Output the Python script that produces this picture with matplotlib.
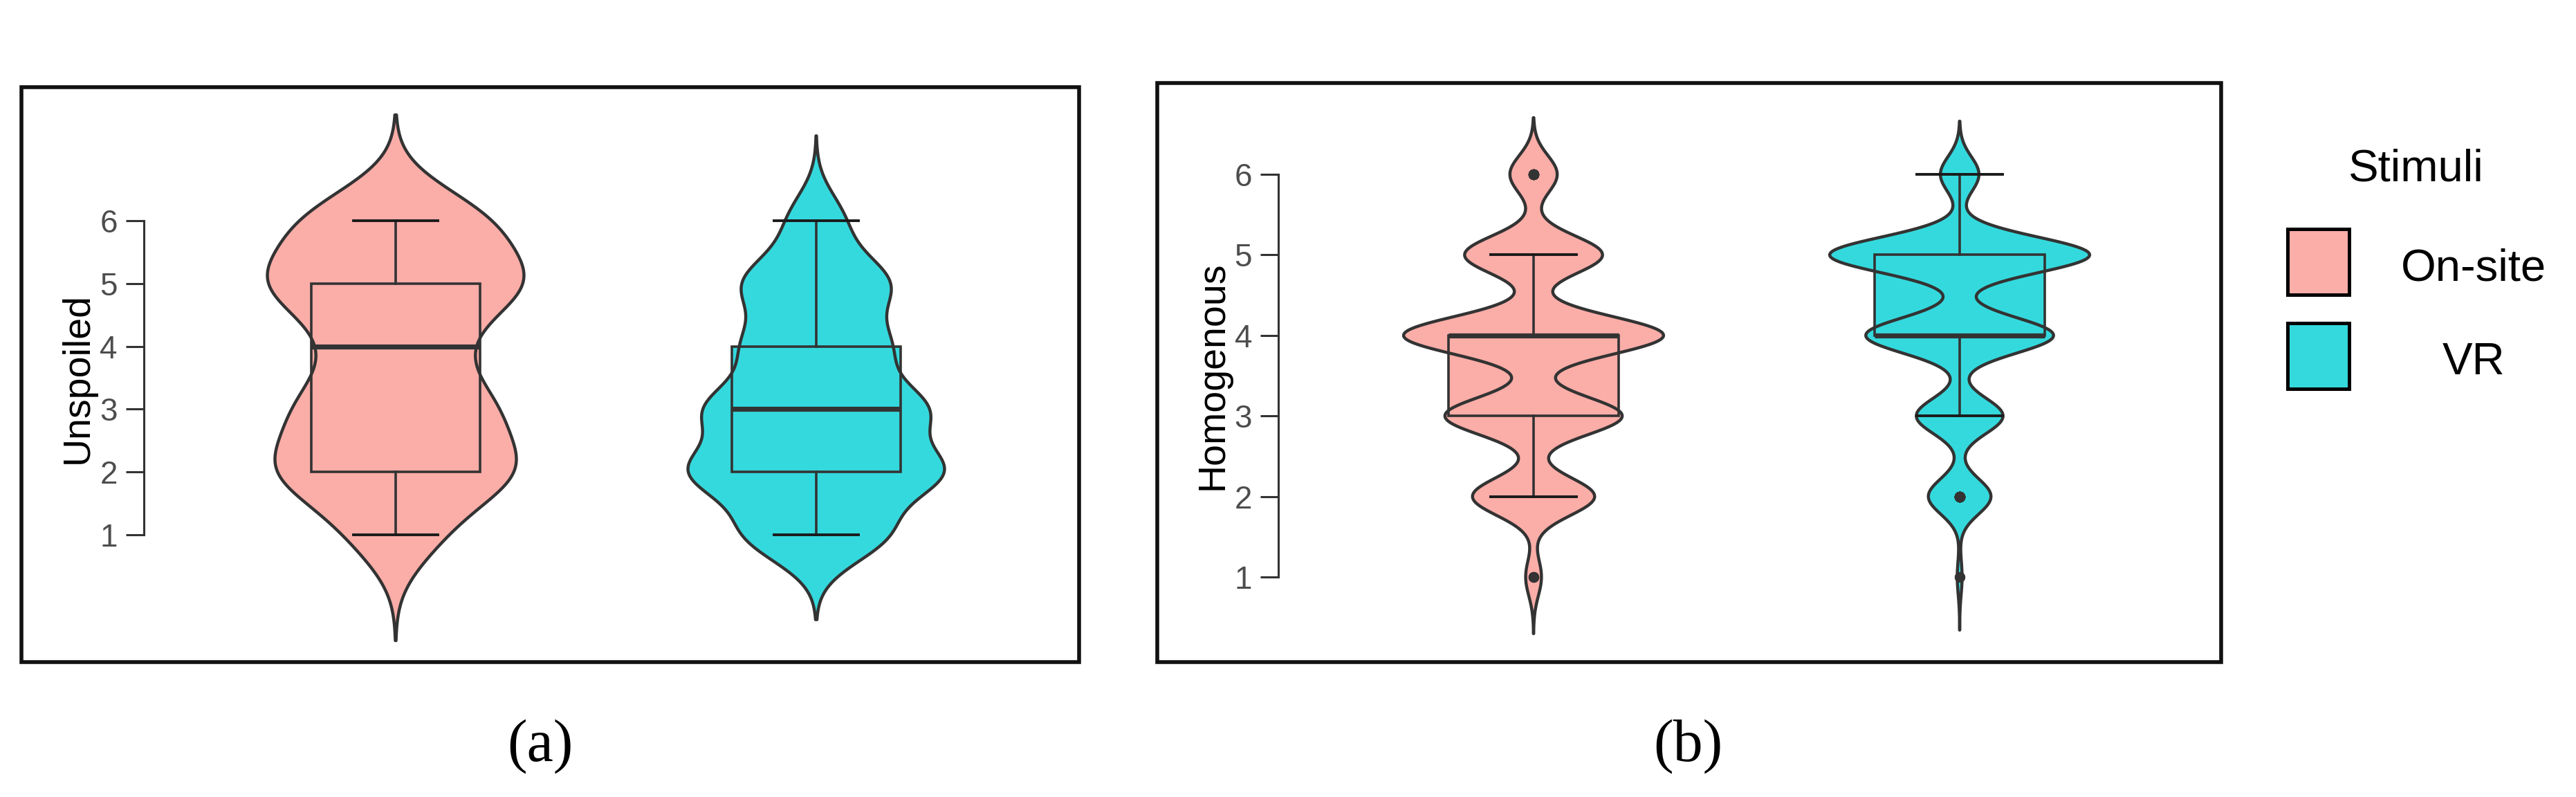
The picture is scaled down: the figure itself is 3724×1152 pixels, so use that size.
import numpy as np
import matplotlib
matplotlib.use("Agg")
import matplotlib.pyplot as plt
from matplotlib.patches import Rectangle

# Likert scores and number of respondents giving each score
scores = [1, 2, 3, 4, 5, 6]
groups = ["On-site", "VR"]
unspoiled_onsite = [10, 28, 22, 13, 30, 22]
unspoiled_vr = [33, 58, 50, 32, 34, 13]
homogenous_onsite = [4, 31, 45, 66, 35, 12]
homogenous_vr = [2, 26, 36, 78, 108, 16]
y_ticks = [1, 2, 3, 4, 5, 6]
y_labels = ["Unspoiled", "Homogenous"]
legend_title = "Stimuli"
panel_labels = ["(a)", "(b)"]

colors = ["#FBADA8", "#34D9DD"]
edge = "#333333"

W, H = 3724, 1152
plt.rcParams["font.family"] = ["Liberation Sans", "DejaVu Sans"]
fig = plt.figure(figsize=(W / 100, H / 100), dpi=100)


def expand(counts):
    return np.repeat(scores, counts).astype(float)


def bw_nrd0(x):
    # same rule as R's default bandwidth
    sd = np.std(x, ddof=1)
    iqr = np.percentile(x, 75) - np.percentile(x, 25)
    return 0.9 * min(sd, iqr / 1.34) * len(x) ** -0.2


def kde_stats(x):
    bw = bw_nrd0(x)
    coords = np.linspace(x.min() - 3 * bw, x.max() + 3 * bw, 512)
    vals = np.exp(-0.5 * ((coords[:, None] - x[None, :]) / bw) ** 2).sum(axis=1)
    return dict(coords=coords, vals=vals, mean=x.mean(), median=np.median(x),
                min=x.min(), max=x.max())


def px_rect(left, top, right, bottom):
    return [left / W, 1 - bottom / H, (right - left) / W, (bottom - top) / H]


def panel(x1, xunit, y1, yunit, ylim, counts_list, ylabel):
    xlim = (0.401, 2.6)
    rect = px_rect(x1 - (1 - xlim[0]) * xunit, y1 - (ylim[1] - 1) * yunit,
                   x1 + (xlim[1] - 1) * xunit, y1 + (1 - ylim[0]) * yunit)
    ax = fig.add_axes(rect)
    ax.set_facecolor("none")
    ax.set_zorder(1)
    data = [expand(c) for c in counts_list]
    stats = [kde_stats(d) for d in data]
    pos = [1, 2]

    # violin fill, then outline on top of the box
    vf = ax.violin(stats, positions=pos, widths=0.61, showextrema=False)
    for body, col in zip(vf["bodies"], colors):
        body.set_alpha(1)
        body.set_facecolor(col)
        body.set_edgecolor("none")
        body.set_zorder(1)
    vo = ax.violin(stats, positions=pos, widths=0.61, showextrema=False)
    for body in vo["bodies"]:
        body.set_alpha(1)
        body.set_facecolor("none")
        body.set_edgecolor(edge)
        body.set_linewidth(3.2)
        body.set_zorder(3)

    bp = ax.boxplot(data, positions=pos, widths=0.4, capwidths=0.2, patch_artist=True,
                    boxprops=dict(edgecolor=edge, linewidth=2.6, zorder=2),
                    medianprops=dict(color=edge, linewidth=5.2, zorder=4, solid_capstyle="butt"),
                    whiskerprops=dict(color=edge, linewidth=2.6, zorder=4),
                    capprops=dict(color="#1a1a1a", linewidth=2.8, zorder=4),
                    flierprops=dict(marker="o", markerfacecolor=edge, markeredgecolor=edge,
                                    markersize=10, zorder=5))
    for b, col in zip(bp["boxes"], colors):
        b.set_facecolor(col)

    ax.set_xlim(xlim)
    ax.set_ylim(ylim)
    for s in ["top", "right", "bottom"]:
        ax.spines[s].set_visible(False)
    ax.spines["left"].set_bounds(1, 6)
    ax.spines["left"].set_color(edge)
    ax.spines["left"].set_linewidth(2.2)
    ax.set_xticks([])
    ax.set_yticks(y_ticks)
    ax.tick_params(axis="y", length=18.7, width=2.2, color=edge, pad=8.6,
                   labelsize=33, labelcolor="#4D4D4D")
    ax.set_ylabel(ylabel, fontsize=40, labelpad=4, color="black")
    return ax


panel(572, 608, 773, 90.8, (-1, 8), [unspoiled_onsite, unspoiled_vr], y_labels[0])
panel(2217, 616, 834, 116.4, (0, 7), [homogenous_onsite, homogenous_vr], y_labels[1])

# overlay in pixel coordinates: frames, legend and panel letters
ov = fig.add_axes([0, 0, 1, 1])
ov.set_zorder(0)
ov.set_xlim(0, W)
ov.set_ylim(H, 0)
ov.axis("off")

ov.add_patch(Rectangle((31, 126), 1529, 831, fill=False, ec="#111111", lw=4))
ov.add_patch(Rectangle((1673, 120), 1538, 837, fill=False, ec="#111111", lw=4))

ov.text(3493, 261, legend_title, fontsize=47, ha="center", va="baseline")
for i, (g, col) in enumerate(zip(groups, colors)):
    top = 331 + i * 136
    ov.add_patch(Rectangle((3307, top), 89, 95, fc=col, ec="black", lw=3.6))
    ov.text(3576, top + 74, g, fontsize=47, ha="center", va="baseline")

for x, lab in zip([781, 2440], panel_labels):
    ov.text(x, 1099, lab, fontsize=62, ha="center", va="baseline",
            family=["Liberation Serif", "DejaVu Serif"])

fig.savefig("out.png", dpi=100)
